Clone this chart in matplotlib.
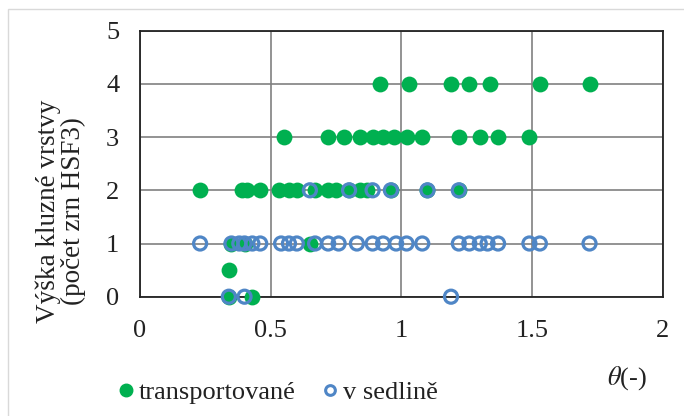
import matplotlib
matplotlib.use("Agg")
import matplotlib.pyplot as plt
from matplotlib.lines import Line2D
from matplotlib.patches import Rectangle

plt.rcParams['font.family'] = ['Liberation Serif', 'DejaVu Serif']
plt.rcParams['mathtext.fontset'] = 'stix'

# transportovane zrna (plne zelene body)
theta_tr = [0.92, 1.03, 1.19, 1.26, 1.34, 1.53, 1.72,
            0.55, 0.72, 0.78, 0.84, 0.89, 0.93, 0.97, 1.02, 1.08, 1.22, 1.30, 1.37, 1.49,
            0.23, 0.39, 0.41, 0.46, 0.53, 0.57, 0.60, 0.67, 0.72, 0.75, 0.80, 0.84, 0.87,
            0.96, 1.10, 1.22,
            0.35, 0.40, 0.65,
            0.34,
            0.34, 0.43]
vyska_tr = [4, 4, 4, 4, 4, 4, 4,
            3, 3, 3, 3, 3, 3, 3, 3, 3, 3, 3, 3, 3,
            2, 2, 2, 2, 2, 2, 2, 2, 2, 2, 2, 2, 2,
            2, 2, 2,
            1, 1, 1,
            0.5,
            0, 0]

# zrna v sedline (prazdne modre krouzky)
theta_sed = [0.65, 0.80, 0.89, 0.96, 1.10, 1.22,
             0.23, 0.35, 0.38, 0.40, 0.43, 0.46, 0.54, 0.57, 0.60, 0.67, 0.72, 0.76,
             0.83, 0.89, 0.93, 0.98, 1.02, 1.08, 1.22, 1.26, 1.30, 1.33, 1.37, 1.49,
             1.53, 1.72,
             0.34, 0.40, 1.19]
vyska_sed = [2, 2, 2, 2, 2, 2,
             1, 1, 1, 1, 1, 1, 1, 1, 1, 1, 1, 1,
             1, 1, 1, 1, 1, 1, 1, 1, 1, 1, 1, 1,
             1, 1,
             0, 0, 0]

zelena = '#00B050'
modra = '#4F86C6'
text_barva = '#222222'

fig = plt.figure(figsize=(6.84, 4.16), dpi=100)
ax = fig.add_axes([140/684, 1 - 296.7/416, 522.7/684, 266/416])

ax.scatter(theta_tr, vyska_tr, s=130, color=zelena, linewidths=0, zorder=3, clip_on=False)
ax.scatter(theta_sed, vyska_sed, s=88, facecolors='none', edgecolors=modra,
           linewidths=2.3, zorder=4, clip_on=False)

ax.set_xlim(0, 2)
ax.set_ylim(0, 5)
ax.set_xticks([0, 0.5, 1, 1.5, 2])
ax.set_xticklabels(['0', '0.5', '1', '1.5', '2'])
ax.set_yticks([0, 1, 2, 3, 4, 5])
ax.tick_params(length=0, labelsize=19, colors=text_barva)
ax.tick_params(axis='x', pad=17)
ax.tick_params(axis='y', pad=15)
ax.grid(True, color='#808080', linewidth=1.2, zorder=0)
ax.set_axisbelow(True)
for sp in ax.spines.values():
    sp.set_color(text_barva)
    sp.set_linewidth(1.3)

fig.text(61/684, 1 - 211/416, 'Výška kluzné vrstvy\n(počet zrn HSF3)', fontsize=19.5,
         rotation=90, ha='center', va='center', linespacing=1.0, color=text_barva)

fig.text(627/684, 1 - 378/416, r'$\theta$(-)', fontsize=19, ha='center', va='center',
         color=text_barva)

handles = [Line2D([], [], marker='o', linestyle='none', markersize=9,
                  markerfacecolor=zelena, markeredgecolor=zelena),
           Line2D([], [], marker='o', linestyle='none', markersize=7,
                  markerfacecolor='none', markeredgecolor=modra, markeredgewidth=2.2)]
fig.legend(handles, ['transportované', 'v sedlině'], loc='center left',
           bbox_to_anchor=(0.172, 1 - 392/416), ncol=2, frameon=False, fontsize=19,
           handlelength=0.6, handletextpad=0.2, columnspacing=1.0, labelcolor=text_barva,
           borderaxespad=0, borderpad=0)

# svetly ramecek grafu
fig.patches.append(Rectangle((8/684, -0.1), 1.2, 1 - 9/416 + 0.1, transform=fig.transFigure,
                             fill=False, edgecolor='#d9d9d9', linewidth=1))

fig.savefig('out.png', dpi=100)
